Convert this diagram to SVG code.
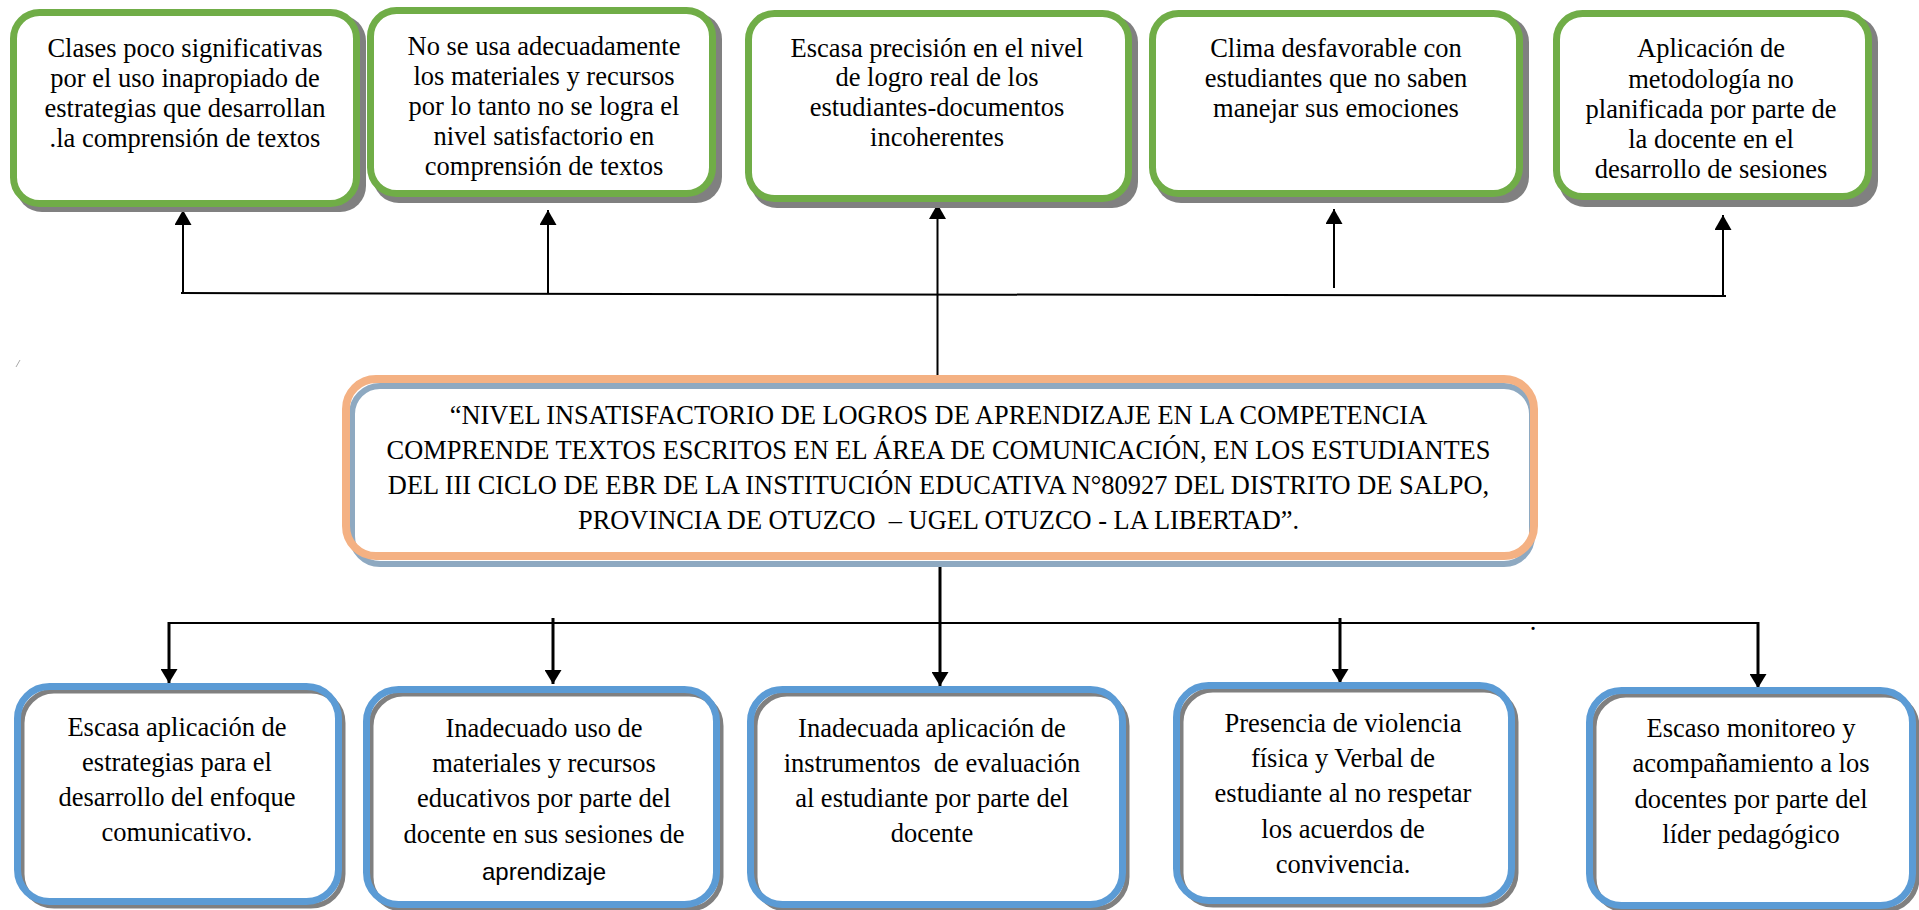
<svg xmlns="http://www.w3.org/2000/svg" width="1919" height="910" viewBox="0 0 1919 910">
<style>
.t{font-family:"Liberation Serif","Times New Roman",serif;font-size:26.5px;fill:#000;text-anchor:middle}
.c{font-family:"Liberation Serif","Times New Roman",serif;font-size:26.4px;fill:#000;text-anchor:middle;white-space:pre}
.s{font-family:"Liberation Sans",Arial,sans-serif;font-size:24px;fill:#000;text-anchor:middle}
.gsh{fill:#808080}
.gbox{fill:#fff;stroke:#70AD47;stroke-width:7}
.bsh{fill:#fff;stroke:#808080;stroke-width:5}
.bbox{fill:none;stroke:#5B9BD5;stroke-width:7}
.ln{stroke:#000;fill:none}
</style>
<defs>
<marker id="ah" viewBox="0 0 15 17" refX="15" refY="8.5" markerWidth="15" markerHeight="17" markerUnits="userSpaceOnUse" orient="auto">
<path d="M0,0 L15,8.5 L0,17 Z" fill="#000"/>
</marker>
<marker id="ah2" viewBox="0 0 14 17" refX="14" refY="8.5" markerWidth="14" markerHeight="17" markerUnits="userSpaceOnUse" orient="auto">
<path d="M0,0 L14,8.5 L0,17 Z" fill="#000"/>
</marker>
</defs>

<g id="connectors">
<line class="ln" x1="181" y1="293" x2="1726" y2="296" stroke-width="2"/>
<line class="ln" x1="183" y1="293" x2="183" y2="210" stroke-width="2" marker-end="url(#ah)"/>
<line class="ln" x1="548" y1="294" x2="548" y2="210" stroke-width="2" marker-end="url(#ah)"/>
<line class="ln" x1="937.5" y1="385" x2="937.5" y2="204" stroke-width="2" marker-end="url(#ah)"/>
<line class="ln" x1="1334" y1="288" x2="1334" y2="209" stroke-width="2" marker-end="url(#ah)"/>
<line class="ln" x1="1723" y1="297" x2="1723" y2="215" stroke-width="2" marker-end="url(#ah)"/>
<line class="ln" x1="169" y1="623" x2="1759" y2="623" stroke-width="2"/>
<line class="ln" x1="940" y1="567" x2="940" y2="686" stroke-width="3" marker-end="url(#ah2)"/>
<line class="ln" x1="169" y1="622" x2="169" y2="683" stroke-width="3" marker-end="url(#ah2)"/>
<line class="ln" x1="553" y1="618" x2="553" y2="684" stroke-width="3" marker-end="url(#ah2)"/>
<line class="ln" x1="1340" y1="618" x2="1340" y2="683" stroke-width="3" marker-end="url(#ah2)"/>
<line class="ln" x1="1758" y1="622" x2="1758" y2="688" stroke-width="3" marker-end="url(#ah2)"/>
<line x1="16" y1="367" x2="20" y2="360" stroke="#aaa" stroke-width="1"/>
<text x="1533" y="630" class="t" font-size="14">.</text>
</g>

<g id="e1">
<rect class="gsh" x="16" y="15" width="350" height="197" rx="26"/>
<rect class="gbox" x="13.5" y="12.5" width="343" height="191" rx="26"/>
<text class="t" x="185" y="57">Clases poco significativas</text>
<text class="t" x="185" y="87">por el uso inapropiado de</text>
<text class="t" x="185" y="117">estrategias que desarrollan</text>
<text class="t" x="185" y="147">.la comprensión de textos</text>
</g>
<g id="e2">
<rect class="gsh" x="373" y="13" width="349" height="190" rx="26"/>
<rect class="gbox" x="370.5" y="10.5" width="342" height="183" rx="26"/>
<text class="t" x="544" y="55">No se usa adecuadamente</text>
<text class="t" x="544" y="85">los materiales y recursos</text>
<text class="t" x="544" y="115">por lo tanto no se logra el</text>
<text class="t" x="544" y="145">nivel satisfactorio en</text>
<text class="t" x="544" y="175">comprensión de textos</text>
</g>
<g id="e3">
<rect class="gsh" x="751" y="16" width="387" height="192" rx="26"/>
<rect class="gbox" x="748.5" y="13.5" width="380" height="185" rx="26"/>
<text class="t" x="937" y="57">Escasa precisión en el nivel</text>
<text class="t" x="937" y="86">de logro real de los</text>
<text class="t" x="937" y="116">estudiantes-documentos</text>
<text class="t" x="937" y="146">incoherentes</text>
</g>
<g id="e4">
<rect class="gsh" x="1155" y="16" width="374" height="187" rx="26"/>
<rect class="gbox" x="1152.5" y="13.5" width="367" height="180" rx="26"/>
<text class="t" x="1336" y="57">Clima desfavorable con</text>
<text class="t" x="1336" y="87">estudiantes que no saben</text>
<text class="t" x="1336" y="117">manejar sus emociones</text>
</g>
<g id="e5">
<rect class="gsh" x="1559" y="16" width="319" height="191" rx="26"/>
<rect class="gbox" x="1556.5" y="13.5" width="312" height="183" rx="26"/>
<text class="t" x="1711" y="57">Aplicación de</text>
<text class="t" x="1711" y="88">metodología no</text>
<text class="t" x="1711" y="118">planificada por parte de</text>
<text class="t" x="1711" y="148">la docente en el</text>
<text class="t" x="1711" y="178">desarrollo de sesiones</text>
</g>

<g id="problema">
<rect x="352" y="386" width="1180" height="178" rx="28" fill="#fff" stroke="#8EA9C1" stroke-width="6"/>
<rect x="346" y="379" width="1188" height="177" rx="30" fill="none" stroke="#F4B183" stroke-width="8"/>
<text class="c" x="938.5" y="424">“NIVEL INSATISFACTORIO DE LOGROS DE APRENDIZAJE EN LA COMPETENCIA</text>
<text class="c" x="938.5" y="459">COMPRENDE TEXTOS ESCRITOS EN EL ÁREA DE COMUNICACIÓN, EN LOS ESTUDIANTES</text>
<text class="c" x="938.5" y="494">DEL III CICLO DE EBR DE LA INSTITUCIÓN EDUCATIVA N°80927 DEL DISTRITO DE SALPO,</text>
<text class="c" x="938.5" y="529">PROVINCIA DE OTUZCO  – UGEL OTUZCO - LA LIBERTAD”.</text>
</g>

<g id="c1">
<rect class="bsh" x="22" y="691" width="321" height="215" rx="32"/>
<rect class="bbox" x="17.5" y="686.5" width="321" height="215" rx="32"/>
<text class="t" x="177" y="736">Escasa aplicación de</text>
<text class="t" x="177" y="771">estrategias para el</text>
<text class="t" x="177" y="806">desarrollo del enfoque</text>
<text class="t" x="177" y="841">comunicativo.</text>
</g>
<g id="c2">
<rect class="bsh" x="371" y="694" width="350" height="215" rx="32"/>
<rect class="bbox" x="366.5" y="689.5" width="350" height="215" rx="32"/>
<text class="t" x="544" y="737">Inadecuado uso de</text>
<text class="t" x="544" y="772">materiales y recursos</text>
<text class="t" x="544" y="807">educativos por parte del</text>
<text class="t" x="544" y="843">docente en sus sesiones de</text>
<text class="s" x="544" y="880">aprendizaje</text>
</g>
<g id="c3">
<rect class="bsh" x="755" y="694" width="372" height="215" rx="32"/>
<rect class="bbox" x="750.5" y="689.5" width="372" height="215" rx="32"/>
<text class="t" x="932" y="737">Inadecuada aplicación de</text>
<text class="t" x="932" y="772" style="white-space:pre">instrumentos  de evaluación</text>
<text class="t" x="932" y="807">al estudiante por parte del</text>
<text class="t" x="932" y="842">docente</text>
</g>
<g id="c4">
<rect class="bsh" x="1181" y="690" width="335" height="215" rx="32"/>
<rect class="bbox" x="1176.5" y="685.5" width="335" height="215" rx="32"/>
<text class="t" x="1343" y="732">Presencia de violencia</text>
<text class="t" x="1343" y="767">física y Verbal de</text>
<text class="t" x="1343" y="802">estudiante al no respetar</text>
<text class="t" x="1343" y="838">los acuerdos de</text>
<text class="t" x="1343" y="873">convivencia.</text>
</g>
<g id="c5">
<rect class="bsh" x="1594" y="695" width="323" height="215" rx="32"/>
<rect class="bbox" x="1589.5" y="690.5" width="323" height="215" rx="32"/>
<text class="t" x="1751" y="737">Escaso monitoreo y</text>
<text class="t" x="1751" y="772">acompañamiento a los</text>
<text class="t" x="1751" y="808">docentes por parte del</text>
<text class="t" x="1751" y="843">líder pedagógico</text>
</g>
</svg>
